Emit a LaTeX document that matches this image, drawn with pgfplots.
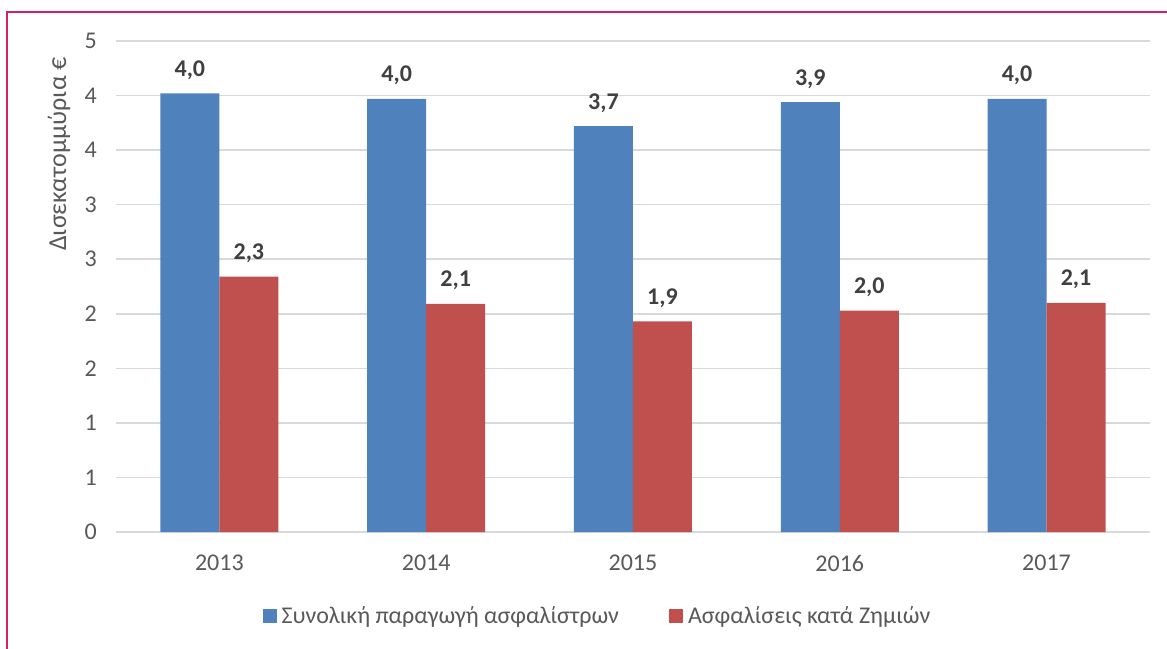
\documentclass[border=0pt]{standalone}
\usepackage{pgfplots}
\pgfplotsset{compat=1.18}
\usepackage{fontspec}
\setmainfont{Carlito}
\definecolor{blueS}{HTML}{4F81BD}
\definecolor{redS}{HTML}{C0504D}
\definecolor{txt}{HTML}{595959}
\definecolor{lbl}{HTML}{404040}
\definecolor{gridc}{HTML}{D9D9D9}
\definecolor{framec}{RGB}{214,30,110}
\newcommand{\cf}{\fontsize{24}{29}\selectfont}
\begin{document}
\begin{tikzpicture}
\useasboundingbox (0pt,0pt) rectangle (1167pt,648pt);
\begin{axis}[
  at={(116pt,116pt)}, anchor=south west,
  scale only axis, width=1034pt, height=491pt,
  ybar=0pt, bar width=59pt,
  xmin=-0.5, xmax=4.5, ymin=0, ymax=4.5,
  xtick={0,1,2,3,4}, xticklabels={2013,2014,2015,2016,2017},
  ytick={0,0.5,1,1.5,2,2.5,3,3.5,4,4.5}, yticklabels={0,1,1,2,2,3,3,4,4,5},
  ymajorgrids, grid style={gridc, line width=1.5pt},
  axis line style={draw=none}, major tick length=0pt,
  tick label style={font=\cf, text=txt},
  yticklabel style={anchor=east, inner sep=0pt, xshift=-19pt},
  xticklabel style={anchor=north, inner sep=0pt, yshift=-23pt},
  /pgf/number format/assume math mode=true,
  nodes near coords,
  every node near coord/.append style={anchor=base, yshift=17pt, inner sep=0pt, font=\cf\bfseries, text=lbl,
    /pgf/number format/.cd, fixed, fixed zerofill, precision=1, use comma},
  ylabel={Δισεκατομμύρια €},
  ylabel style={at={(axis description cs:-0.0551,0.770)}, anchor=center,
    font=\fontsize{26}{31}\selectfont, text=txt},
  legend columns=2,
  legend image code/.code={\path[#1] (0pt,-7pt) rectangle (14pt,7pt);},
  legend style={at={(axis description cs:0.4647,-0.171)}, anchor=center, draw=none, fill=none,
    font=\cf, text=txt, nodes={inner sep=0pt},
    /tikz/every odd column/.append style={column sep=5pt},
    /tikz/every even column/.append style={column sep=50pt}},
]
\addplot[fill=blueS, draw=none] coordinates {(0,4.02) (1,3.97) (2,3.72) (3,3.94) (4,3.97)};
\addplot[fill=redS, draw=none] coordinates {(0,2.34) (1,2.09) (2,1.93) (3,2.03) (4,2.10)};
\legend{Συνολική παραγωγή ασφαλίστρων, Ασφαλίσεις κατά Ζημιών}
\end{axis}
\draw[framec, line width=2pt] (7pt,-5pt) -- (7pt,636pt) -- (1180pt,636pt);
\end{tikzpicture}
\end{document}
